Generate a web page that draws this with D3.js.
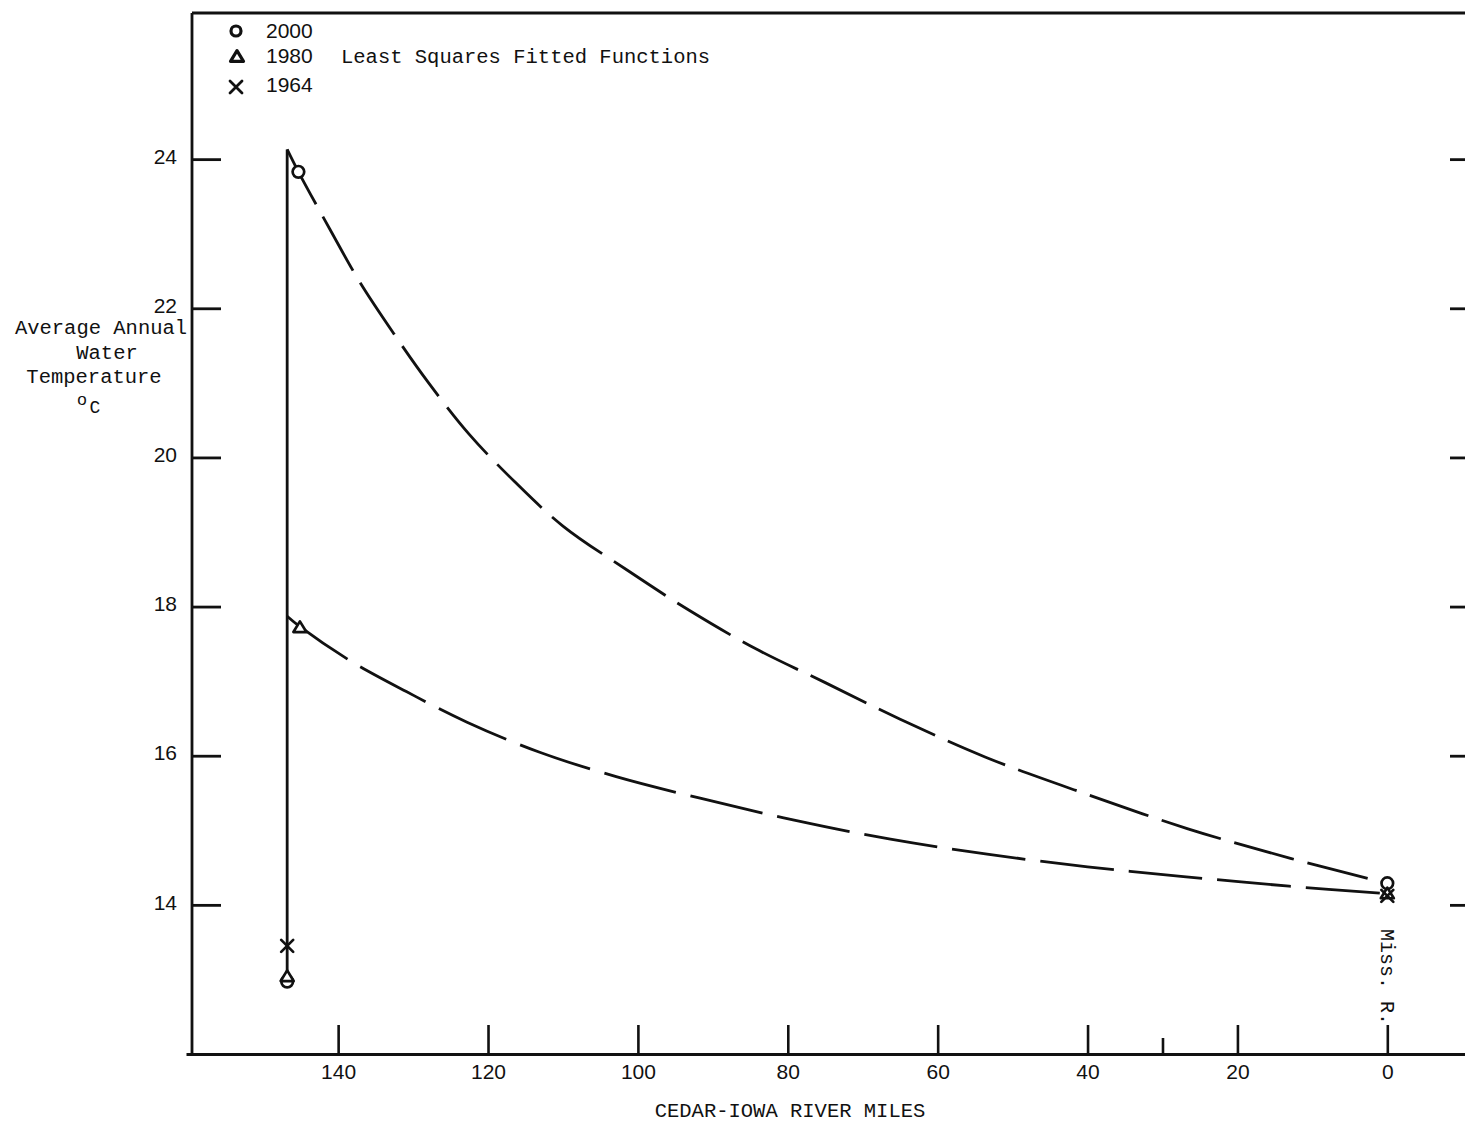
<!DOCTYPE html>
<html>
<head>
<meta charset="utf-8">
<script src="https://cdn.jsdelivr.net/npm/d3@7"></script>
<style>
  html, body { margin: 0; background: #fff; }
  svg { display: block; }
</style>
</head>
<body>
<svg id="chart" width="1465" height="1122"></svg>
<script>
// Least squares fitted temperature profiles along the Cedar-Iowa River
const miles2000 = [146.8, 145.3, 141.1, 137.1, 132.5, 128.0, 122.5, 116.5, 110.0, 101.3, 93.0, 84.2, 75.0, 65.0, 53.6, 40.3, 26.6, 12.8, 0];
const temps2000 = [24.13, 23.83, 23.06, 22.35, 21.65, 21.01, 20.31, 19.68, 19.08, 18.48, 17.94, 17.43, 16.98, 16.49, 15.98, 15.49, 15.02, 14.62, 14.29];

const miles1980 = [146.8, 145.1, 138.5, 130.9, 122.8, 113.2, 102.9, 91.7, 79.3, 66.3, 53.4, 40.0, 27.2, 13.1, 0];
const temps1980 = [17.87, 17.73, 17.28, 16.86, 16.45, 16.05, 15.72, 15.43, 15.14, 14.88, 14.68, 14.51, 14.38, 14.25, 14.15];

// Observed points
const circleMiles = [145.3, 146.8, 0];
const circleTemps = [23.83, 12.97, 14.29];
const triangleMiles = [145.1, 146.8, 0];
const triangleTemps = [17.73, 13.05, 14.16];
const crossMiles = [146.8, 0];
const crossTemps = [13.45, 14.12];

// Headwater reference line
const headwaterMile = 146.8;
const headwaterTemps = [12.95, 24.13];

// Axis ticks
const yTicks = [14, 16, 18, 20, 22, 24];
const xTicks = [140, 120, 100, 80, 60, 40, 20, 0];
const xMinorTicks = [30];

const legendYears = ["2000", "1980", "1964"];
const legendTitle = "Least Squares Fitted Functions";
const yTitleLines = ["Average Annual", "Water", "Temperature"];
const xTitle = "CEDAR-IOWA RIVER MILES";
const mouthLabel = "Miss. R.";

const ink = "#111";
const mono = "'Liberation Mono', 'Courier New', monospace";
const sans = "'Liberation Sans', Arial, sans-serif";

const svg = d3.select("#chart");

const x = d3.scaleLinear().domain([160.3, -10.5]).range([186, 1466]);
const y = d3.scaleLinear().domain([12, 26]).range([1054, 10]);

const axisLeftX = 192;
const frameTop = 13;

// Frame: left and top rules
svg.append("line")
  .attr("x1", axisLeftX).attr("x2", axisLeftX)
  .attr("y1", frameTop).attr("y2", y(12))
  .attr("stroke", ink).attr("stroke-width", 2.8);
svg.append("line")
  .attr("x1", axisLeftX).attr("x2", 1465)
  .attr("y1", frameTop).attr("y2", frameTop)
  .attr("stroke", ink).attr("stroke-width", 2.8);

// Left axis with inward ticks
const gLeft = svg.append("g")
  .attr("transform", `translate(${axisLeftX},0)`)
  .call(d3.axisLeft(y).tickValues(yTicks).tickSize(-29).tickSizeOuter(0).tickPadding(15).tickFormat(d3.format("d")));
gLeft.select(".domain").remove();
gLeft.selectAll(".tick line").attr("stroke", ink).attr("stroke-width", 2.8);
gLeft.selectAll(".tick text").attr("font-family", sans).attr("font-size", 21).attr("fill", ink).attr("dy", "0.2em");

// Right axis stubs
const gRight = svg.append("g")
  .attr("transform", "translate(1466,0)")
  .call(d3.axisLeft(y).tickValues(yTicks).tickSize(16).tickSizeOuter(0).tickFormat(""));
gRight.select(".domain").remove();
gRight.selectAll(".tick line").attr("stroke", ink).attr("stroke-width", 2.8);

// Bottom axis with inward ticks
const gBottom = svg.append("g")
  .attr("transform", `translate(0,${y(12)})`)
  .call(d3.axisBottom(x).tickValues(xTicks).tickSize(-29).tickSizeOuter(0).tickPadding(10).tickFormat(d3.format("d")));
gBottom.select(".domain").attr("stroke", ink).attr("stroke-width", 3);
gBottom.selectAll(".tick line").attr("stroke", ink).attr("stroke-width", 2.6);
gBottom.selectAll(".tick text").attr("font-family", sans).attr("font-size", 21).attr("fill", ink);

const gMinor = svg.append("g")
  .attr("transform", `translate(0,${y(12)})`)
  .call(d3.axisBottom(x).tickValues(xMinorTicks).tickSize(-16).tickSizeOuter(0).tickFormat(""));
gMinor.select(".domain").remove();
gMinor.selectAll(".tick line").attr("stroke", ink).attr("stroke-width", 2.6);

// Headwater vertical line
svg.append("line")
  .attr("x1", x(headwaterMile)).attr("x2", x(headwaterMile))
  .attr("y1", y(headwaterTemps[0])).attr("y2", y(headwaterTemps[1]))
  .attr("stroke", ink).attr("stroke-width", 2.8);

// Fitted curves
const line = d3.line()
  .x(d => x(d[0]))
  .y(d => y(d[1]))
  .curve(d3.curveCatmullRom.alpha(0.5));

svg.append("path")
  .datum(d3.zip(miles2000, temps2000))
  .attr("d", line)
  .attr("fill", "none").attr("stroke", ink).attr("stroke-width", 2.8)
  .attr("stroke-dasharray", "62,14");

svg.append("path")
  .datum(d3.zip(miles1980, temps1980))
  .attr("d", line)
  .attr("fill", "none").attr("stroke", ink).attr("stroke-width", 2.8)
  .attr("stroke-dasharray", "74,15");

// Marker drawing helpers
function drawCircle(g, cx, cy, r, w) {
  g.append("circle").attr("cx", cx).attr("cy", cy).attr("r", r)
    .attr("fill", "#fff").attr("stroke", ink).attr("stroke-width", w);
}
function drawTriangle(g, cx, cy, s, w) {
  const h = s * 0.82;
  g.append("path")
    .attr("d", `M${cx},${cy - h / 2}L${cx + s / 2},${cy + h / 2}L${cx - s / 2},${cy + h / 2}Z`)
    .attr("fill", "#fff").attr("stroke", ink).attr("stroke-width", w).attr("stroke-linejoin", "round");
}
function drawCross(g, cx, cy, s, w) {
  g.append("path")
    .attr("d", `M${cx - s / 2},${cy - s / 2}L${cx + s / 2},${cy + s / 2}M${cx + s / 2},${cy - s / 2}L${cx - s / 2},${cy + s / 2}`)
    .attr("fill", "none").attr("stroke", ink).attr("stroke-width", w).attr("stroke-linecap", "round");
}

const gMarks = svg.append("g");
d3.zip(circleMiles, circleTemps).forEach(([m, t]) => drawCircle(gMarks, x(m), y(t), 5.8, 2.7));
d3.zip(triangleMiles, triangleTemps).forEach(([m, t]) => drawTriangle(gMarks, x(m), y(t), 13, 2.7));
d3.zip(crossMiles, crossTemps).forEach(([m, t]) => drawCross(gMarks, x(m), y(t), 12, 2.7));

// Legend
const gLegend = svg.append("g");
const legendRows = [31, 56, 85];
drawCircle(gLegend, 236, legendRows[0], 5, 3.2);
drawTriangle(gLegend, 237, legendRows[1], 13, 3.2);
drawCross(gLegend, 236, legendRows[2] + 2, 12, 2.8);
legendYears.forEach((yr, i) => {
  gLegend.append("text")
    .attr("x", 266).attr("y", legendRows[i] + 7)
    .attr("font-family", sans).attr("font-size", 21).attr("fill", ink)
    .text(yr);
});
gLegend.append("text")
  .attr("x", 341).attr("y", 63)
  .attr("font-family", mono).attr("font-size", 20.5).attr("fill", ink)
  .text(legendTitle);

// Y axis title
const yTitleX = [101, 107, 94];
const yTitleY = [334, 359, 383];
yTitleLines.forEach((s, i) => {
  svg.append("text")
    .attr("x", yTitleX[i]).attr("y", yTitleY[i])
    .attr("text-anchor", "middle")
    .attr("font-family", mono).attr("font-size", 20.5).attr("fill", ink)
    .text(s);
});
svg.append("text")
  .attr("x", 82).attr("y", 405)
  .attr("text-anchor", "middle")
  .attr("font-family", sans).attr("font-size", 17).attr("fill", ink)
  .text("o");
svg.append("text")
  .attr("x", 95).attr("y", 413)
  .attr("text-anchor", "middle")
  .attr("font-family", mono).attr("font-size", 18).attr("fill", ink)
  .text("C");

// X axis title
svg.append("text")
  .attr("x", 790).attr("y", 1117)
  .attr("text-anchor", "middle")
  .attr("font-family", mono).attr("font-size", 20.5).attr("fill", ink)
  .text(xTitle);

// River mouth label, written downward
svg.append("text")
  .attr("transform", `translate(${x(0) - 6},${929}) rotate(90)`)
  .attr("font-family", mono).attr("font-size", 20).attr("fill", ink)
  .text(mouthLabel);
</script>
</body>
</html>
